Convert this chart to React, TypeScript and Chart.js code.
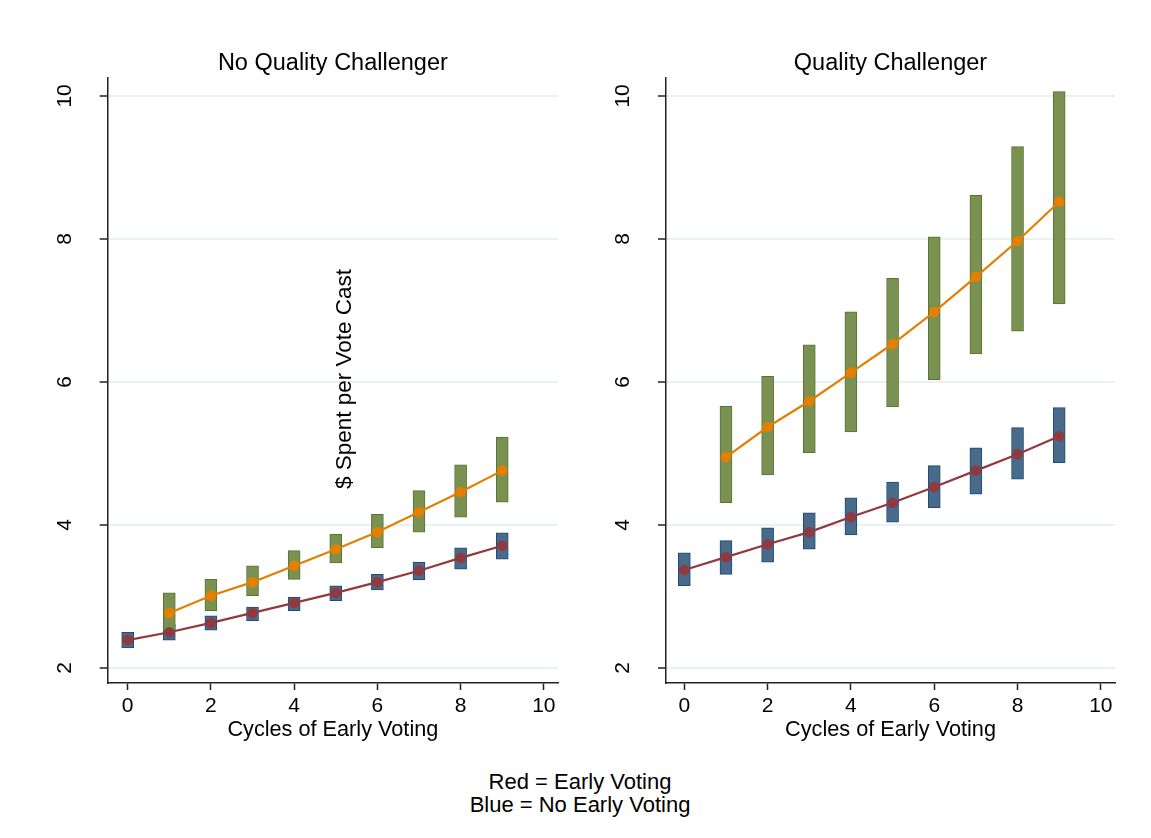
import React, { useEffect, useRef } from "react";
import { Chart, registerables } from "chart.js";

Chart.register(...registerables);

// ---------- data ----------
const CYCLES = [0, 1, 2, 3, 4, 5, 6, 7, 8, 9];
const CYCLES_CH = [1, 2, 3, 4, 5, 6, 7, 8, 9];
const X_TICKS = [0, 2, 4, 6, 8, 10];
const Y_TICKS = [2, 4, 6, 8, 10];

const PANEL_TITLES = ["No Quality Challenger", "Quality Challenger"];
const X_TITLE = "Cycles of Early Voting";
const Y_TITLE = "$ Spent per Vote Cast";
const NOTES = ["Red = Early Voting", "Blue = No Early Voting"];

// No Quality Challenger
const NQ_RED = [2.39, 2.5, 2.63, 2.77, 2.91, 3.05, 3.2, 3.36, 3.54, 3.71];
const NQ_BLUE_LO = [2.28, 2.39, 2.53, 2.66, 2.8, 2.94, 3.09, 3.23, 3.38, 3.52];
const NQ_BLUE_HI = [2.5, 2.61, 2.73, 2.85, 2.99, 3.15, 3.31, 3.48, 3.68, 3.89];
const NQ_ORANGE = [2.77, 3.01, 3.2, 3.43, 3.66, 3.9, 4.18, 4.46, 4.76];
const NQ_GREEN_LO = [2.52, 2.8, 3.01, 3.24, 3.47, 3.68, 3.9, 4.11, 4.32];
const NQ_GREEN_HI = [3.05, 3.24, 3.43, 3.64, 3.87, 4.15, 4.48, 4.84, 5.23];

// Quality Challenger
const Q_RED = [3.37, 3.55, 3.73, 3.9, 4.11, 4.31, 4.53, 4.76, 4.99, 5.24];
const Q_BLUE_LO = [3.15, 3.31, 3.48, 3.66, 3.86, 4.04, 4.24, 4.43, 4.64, 4.87];
const Q_BLUE_HI = [3.61, 3.78, 3.96, 4.17, 4.38, 4.6, 4.83, 5.08, 5.36, 5.64];
const Q_ORANGE = [4.95, 5.37, 5.73, 6.13, 6.53, 6.98, 7.47, 7.97, 8.52];
const Q_GREEN_LO = [4.31, 4.7, 5.01, 5.3, 5.65, 6.03, 6.39, 6.71, 7.09];
const Q_GREEN_HI = [5.66, 6.08, 6.52, 6.98, 7.45, 8.03, 8.61, 9.29, 10.06];

// ---------- style ----------
const FONT = "'Liberation Sans', Arial, Helvetica, sans-serif";
const ORANGE = "#e57f00";
const RED = "#903a40";
const GREEN_FILL = "#7a9152";
const GREEN_EDGE = "#55752f";
const BLUE_FILL = "#486a8b";
const BLUE_EDGE = "#1f4a72";
const GRID = "#e9f1f3";
const AXIS = "#222222";

Chart.defaults.font.family = FONT;
Chart.defaults.color = "#000";

type PanelSpec = {
  title: string;
  red: number[];
  blueLo: number[];
  blueHi: number[];
  orange: number[];
  greenLo: number[];
  greenHi: number[];
  axisLeft: number;
  padRight: number;
  xMin: number;
  showYTitle: boolean;
};

function buildConfig(p: PanelSpec): any {
  const yTitlePlugin = {
    id: "yTitle",
    afterDraw(chart: any) {
      if (!p.showYTitle) return;
      const ctx = chart.ctx;
      ctx.save();
      ctx.translate(345, 379);
      ctx.rotate(-Math.PI / 2);
      ctx.font = `22.5px ${FONT}`;
      ctx.fillStyle = "#000";
      ctx.textAlign = "center";
      ctx.textBaseline = "middle";
      ctx.fillText(Y_TITLE, 0, 0);
      ctx.restore();
    },
  };
  return {
    type: "bar",
    data: {
      datasets: [
        {
          type: "line",
          data: CYCLES_CH.map((x, i) => ({ x, y: p.orange[i] })),
          borderColor: ORANGE,
          backgroundColor: ORANGE,
          borderWidth: 2.2,
          pointRadius: 5.3,
          pointBorderWidth: 0,
          tension: 0,
          order: 1,
        },
        {
          type: "line",
          data: CYCLES.map((x, i) => ({ x, y: p.red[i] })),
          borderColor: RED,
          backgroundColor: RED,
          borderWidth: 2.2,
          pointRadius: 5.3,
          pointBorderWidth: 0,
          tension: 0,
          order: 2,
        },
        {
          type: "bar",
          data: CYCLES_CH.map((x, i) => ({ x, y: [p.greenLo[i], p.greenHi[i]] })),
          backgroundColor: GREEN_FILL,
          borderColor: GREEN_EDGE,
          borderWidth: 1,
          borderSkipped: false,
          barThickness: 12,
          grouped: false,
          order: 3,
        },
        {
          type: "bar",
          data: CYCLES.map((x, i) => ({ x, y: [p.blueLo[i], p.blueHi[i]] })),
          backgroundColor: BLUE_FILL,
          borderColor: BLUE_EDGE,
          borderWidth: 1,
          borderSkipped: false,
          barThickness: 12,
          grouped: false,
          order: 4,
        },
      ],
    },
    options: {
      animation: false,
      responsive: false,
      devicePixelRatio: 1,
      layout: { padding: { left: 0, right: p.padRight, top: 0, bottom: 0 } },
      plugins: {
        legend: { display: false },
        tooltip: { enabled: false },
        title: {
          display: true,
          text: p.title,
          fullSize: false,
          color: "#000",
          font: { size: 23.5, weight: "normal", family: FONT },
          padding: { top: 49.4, bottom: 0.4 },
        },
      },
      scales: {
        x: {
          type: "linear",
          min: p.xMin,
          max: 10.34,
          offset: false,
          afterBuildTicks: (s: any) => {
            s.ticks = X_TICKS.map((v) => ({ value: v }));
          },
          afterFit: (s: any) => {
            s.height = 77;
          },
          ticks: {
            font: { size: 21, family: FONT },
            color: "#000",
            padding: 4,
            maxRotation: 0,
            autoSkip: false,
          },
          grid: {
            drawOnChartArea: false,
            drawTicks: true,
            tickLength: 7,
            tickColor: AXIS,
            tickWidth: 1.5,
            offset: false,
          },
          border: { display: true, color: AXIS, width: 1.5 },
          title: {
            display: true,
            text: X_TITLE,
            color: "#000",
            font: { size: 21.7, family: FONT },
            padding: { top: 0, bottom: 17 },
          },
        },
        y: {
          type: "linear",
          min: 1.79,
          max: 10.25,
          afterBuildTicks: (s: any) => {
            s.ticks = Y_TICKS.map((v) => ({ value: v }));
          },
          afterFit: (s: any) => {
            s.width = p.axisLeft;
          },
          ticks: {
            font: { size: 21, family: FONT },
            color: "#000",
            minRotation: 90,
            maxRotation: 90,
            crossAlign: "center",
            padding: 23,
          },
          grid: {
            color: GRID,
            lineWidth: 2,
            drawTicks: true,
            tickLength: 8,
            tickColor: AXIS,
            tickWidth: 1.5,
          },
          border: { display: true, color: AXIS, width: 1.5 },
        },
      },
    },
    plugins: [yTitlePlugin],
  };
}

function Panel(props: { spec: PanelSpec; left: number; width: number; height: number }) {
  const ref = useRef<HTMLCanvasElement | null>(null);
  useEffect(() => {
    if (!ref.current) return;
    const chart = new Chart(ref.current, buildConfig(props.spec));
    return () => chart.destroy();
  }, []);
  return (
    <canvas
      ref={ref}
      width={props.width}
      height={props.height}
      style={{
        position: "absolute",
        left: props.left,
        top: 0,
        width: props.width,
        height: props.height,
      }}
    />
  );
}

export default function App() {
  const left: PanelSpec = {
    title: PANEL_TITLES[0],
    red: NQ_RED,
    blueLo: NQ_BLUE_LO,
    blueHi: NQ_BLUE_HI,
    orange: NQ_ORANGE,
    greenLo: NQ_GREEN_LO,
    greenHi: NQ_GREEN_HI,
    axisLeft: 107.7,
    padRight: 17,
    xMin: -0.48,
    showYTitle: true,
  };
  const right: PanelSpec = {
    title: PANEL_TITLES[1],
    red: Q_RED,
    blueLo: Q_BLUE_LO,
    blueHi: Q_BLUE_HI,
    orange: Q_ORANGE,
    greenLo: Q_GREEN_LO,
    greenHi: Q_GREEN_HI,
    axisLeft: 91,
    padRight: 36,
    xMin: -0.44,
    showYTitle: false,
  };
  return (
    <div
      style={{
        position: "absolute",
        left: 0,
        top: 0,
        width: 1151,
        height: 838,
        background: "#fff",
        overflow: "hidden",
      }}
    >
      <Panel spec={left} left={0} width={575} height={760} />
      <Panel spec={right} left={575} width={576} height={760} />
      <div
        style={{
          position: "absolute",
          left: 0,
          top: 771,
          width: 1160,
          textAlign: "center",
          fontFamily: FONT,
          fontSize: 22,
          lineHeight: "22.5px",
          color: "#000",
        }}
      >
        {NOTES.map((n) => (
          <div key={n}>{n}</div>
        ))}
      </div>
    </div>
  );
}
